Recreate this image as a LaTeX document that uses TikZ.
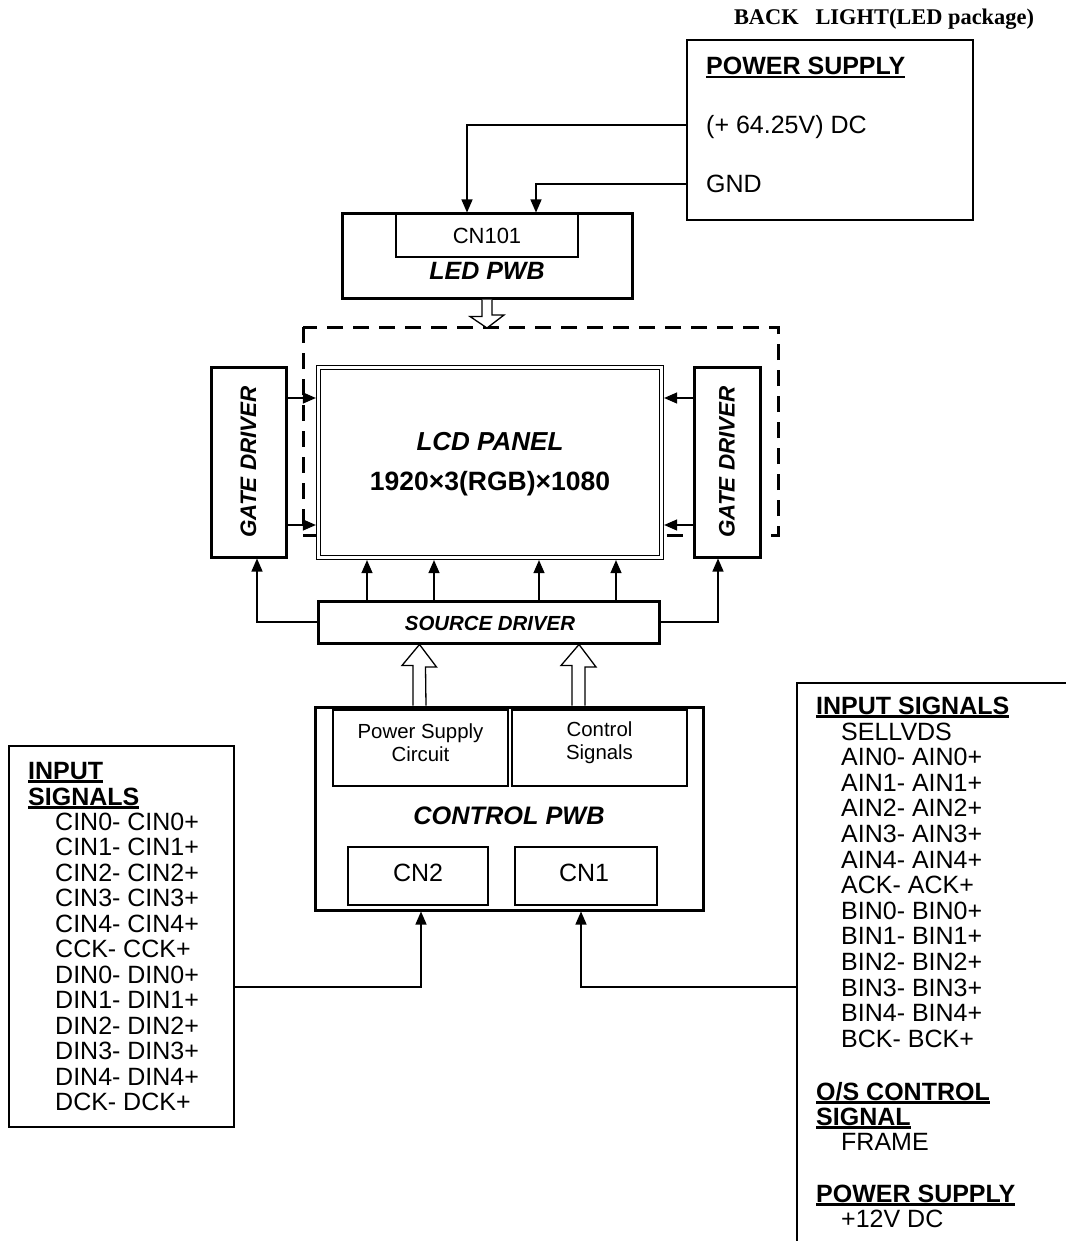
\documentclass[tikz,border=0pt]{standalone}
\usepackage{fontspec}
\setmainfont{Liberation Sans}
\newfontfamily\titlefont{Liberation Serif}
\usetikzlibrary{arrows.meta,calc}
\newcommand\myul[1]{\setbox0=\hbox{\bfseries #1}\rlap{\rule[-3.5pt]{\wd0}{2.4pt}}\box0}
\begin{document}
\begin{tikzpicture}[x=1pt,y=-1pt,
  thinln/.style={line width=1.3pt},
  thickbox/.style={draw,line width=3pt,fill=white,inner sep=0pt},
  thinbox/.style={draw,line width=1.3pt,fill=white,inner sep=0pt},
  arr/.style={line width=1.3pt,-{Triangle[length=13pt,width=11pt]}},
  hollow/.style={line width=1.3pt,fill=white,line join=miter},
  dashbox/.style={line width=3pt,dash pattern=on 16pt off 10pt},
  txt/.style={inner sep=0pt,font=\fontsize{25}{25.6}\selectfont},
  lbl/.style={inner sep=0pt,anchor=base west,font=\fontsize{25}{25.6}\selectfont},
  bi/.style={inner sep=0pt,font=\fontsize{#1}{#1}\selectfont\bfseries\itshape},
  sm/.style={inner sep=0pt,align=center,font=\fontsize{20.4}{23}\selectfont},
]
\useasboundingbox (0,0) rectangle (1065,1241);

% ---- back light power supply
\node[inner sep=0pt,anchor=base,font=\fontsize{22.4}{22.4}\selectfont\titlefont\bfseries] (bl) at (884,25) {BACK\hspace{0.75em}LIGHT(LED package)};
\node[thinbox,minimum width=286,minimum height=180] (ps) at (830,130) {};
\node[lbl] (psh) at (706,75) {\myul{POWER SUPPLY}};
\node[lbl] (vdc) at (706,134) {(+ 64.25V) DC};
\node[lbl] (gnd) at (706,193) {GND};

% ---- LED PWB
\node[thickbox,minimum width=290,minimum height=84] (led) at (487,256) {};
\node[thinbox,minimum width=182,minimum height=43,font=\fontsize{22}{22}\selectfont] (cn101) at (487,235.5) {CN101};
\node[bi=25] (ledt) at (487,271) {LED PWB};

\draw[arr] (ps.west |- 0,125) -| ($(led.north)+(-20,0)$);
\draw[arr] (ps.west |- 0,184) -| ($(led.north)+(49,0)$);

% ---- dashed backlight frame
\draw[dashbox] (303,327) rectangle (778,535);

% hollow arrow LED PWB -> panel
\draw[hollow] ($(led.south)+(-5,0)$) -- ++(0,17) -- ++(-12,0) -- (487,328) -- (504,315) -- ++(-12,0) -- ($(led.south)+(5,0)$);

% ---- gate drivers and panel
\node[thickbox,minimum width=75,minimum height=190] (gl) at (248.5,462) {};
\node[bi=22.4,rotate=90] (glt) at (gl.center) {GATE DRIVER};
\node[thickbox,minimum width=66,minimum height=190] (gr) at (727,462) {};
\node[bi=22.4,rotate=90] (grt) at (gr.center) {GATE DRIVER};

\node[draw,double,double distance=3pt,line width=1.2pt,fill=white,minimum width=343,minimum height=190,inner sep=0pt] (lcd) at (490,462.5) {};
\node[bi=26] (lcdt) at (490,442) {LCD PANEL};
\node[inner sep=0pt,font=\fontsize{26.5}{26.5}\selectfont\bfseries] (res) at (490,484) {1920×3(RGB)×1080};

\foreach \yy in {398,525} {
  \draw[arr,shorten >=2pt] (gl.east |- 0,\yy) -- (lcd.west |- 0,\yy);
  \draw[arr,shorten >=2pt] (gr.west |- 0,\yy) -- (lcd.east |- 0,\yy);
}

% ---- source driver
\node[thickbox,minimum width=341,minimum height=42] (sd) at (488.5,622) {};
\node[bi=20.4] (sdt) at (490,623) {SOURCE DRIVER};
\foreach \xx in {367,434,539,616}
  \draw[arr,shorten >=2pt] (sd.north -| \xx,0) -- (lcd.south -| \xx,0);
\draw[arr] (sd.west) -| ($(gl.south)+(8.5,0)$);
\draw[arr] (sd.east) -| ($(gr.south)+(-9,0)$);

% ---- control PWB
\node[thickbox,minimum width=388,minimum height=203] (cp) at (509,808.5) {};
\node[thinbox,minimum width=175,minimum height=76] (psc) at (420.5,748) {};
\node[sm] (psct) at (420.5,743) {Power Supply\\Circuit};
\node[thinbox,minimum width=175,minimum height=76] (cs) at (599.5,748) {};
\node[sm] (cst) at (599.5,743) {Control\\Signals};
\node[bi=25.3] (cpt) at (509,816) {CONTROL PWB};
\node[thinbox,minimum width=140,minimum height=58] (cn2) at (418,876) {};
\node[txt] (cn2t) at (418,873) {CN2};
\node[thinbox,minimum width=142,minimum height=58] (cn1) at (586,876) {};
\node[txt] (cn1t) at (584,873) {CN1};

% hollow arrows control PWB -> source driver
\draw[hollow] ($(cp.north)+(-96,0)$) -- ++(0,-40) -- ++(-11,0) -- (419.5,644.5) -- (436.5,667) -- ++(-11,0) -- ($(cp.north)+(-83,0)$);
\draw[hollow] ($(cp.north)+(63,0)$) -- ++(0,-40) -- ++(-11,0) -- (579,644.5) -- (596,667) -- ++(-11,0) -- ($(cp.north)+(76,0)$);

% ---- left input signals
\node[thinbox,fill=none,minimum width=225,minimum height=381] (inl) at (121.5,936.5) {};
\node[lbl] (lh1) at (28,779) {\myul{INPUT}};
\node[lbl] (lh2) at (28,805) {\myul{SIGNALS}};
\foreach \t [count=\i] in {CIN0- CIN0+,CIN1- CIN1+,CIN2- CIN2+,CIN3- CIN3+,CIN4- CIN4+,CCK- CCK+,DIN0- DIN0+,DIN1- DIN1+,DIN2- DIN2+,DIN3- DIN3+,DIN4- DIN4+,DCK- DCK+}
  \node[lbl] (li\i) at (55,{830+25.5*(\i-1)}) {\t};
\draw[arr] (inl.east |- 0,987) -| ($(cp.south)+(-88,0)$);

% ---- right input signals
\coordinate (rtop) at (797,683);
\coordinate (rin) at (797,987);
\draw[thinln] (1066,683) -- (rtop) -- (797,1242);
\node[lbl] (rh1) at (816,714) {\myul{INPUT SIGNALS}};
\foreach \t [count=\i] in {SELLVDS,AIN0- AIN0+,AIN1- AIN1+,AIN2- AIN2+,AIN3- AIN3+,AIN4- AIN4+,ACK- ACK+,BIN0- BIN0+,BIN1- BIN1+,BIN2- BIN2+,BIN3- BIN3+,BIN4- BIN4+,BCK- BCK+}
  \node[lbl] (ri\i) at (841,{740+25.6*(\i-1)}) {\t};
\node[lbl] (rh2) at (816,1100) {\myul{O/S CONTROL}};
\node[lbl] (rh3) at (816,1125) {\myul{SIGNAL}};
\node[lbl] (rfr) at (841,1150) {FRAME};
\node[lbl] (rh4) at (816,1202) {\myul{POWER SUPPLY}};
\node[lbl] (r12) at (841,1227) {+12V DC};
\draw[arr] (rin) -| ($(cp.south)+(72,0)$);
\end{tikzpicture}
\end{document}
